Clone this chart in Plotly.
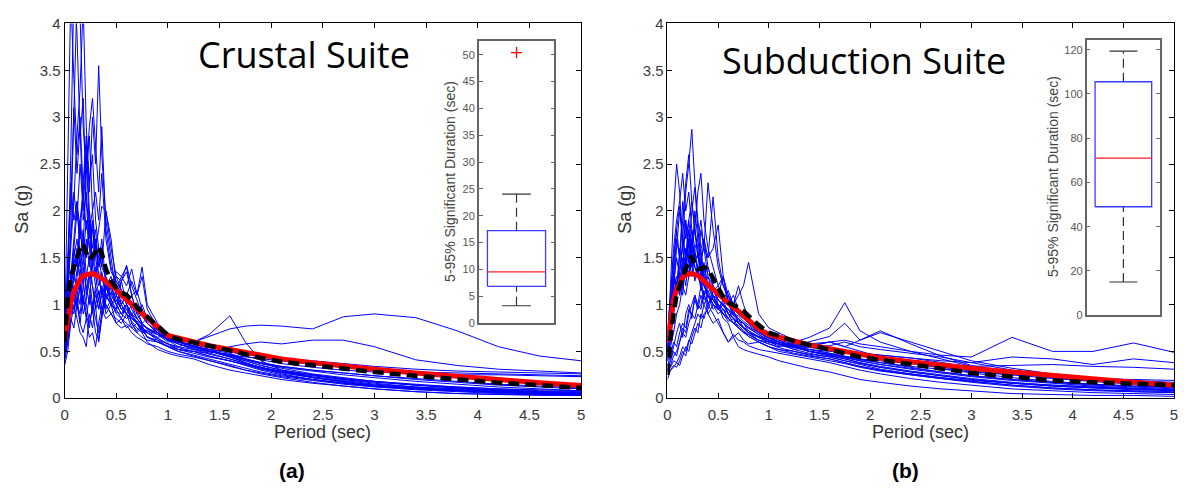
import plotly.graph_objects as go

# ---------------- data ----------------
periods = [0, 0.03, 0.06, 0.09, 0.12, 0.15, 0.18, 0.21, 0.24, 0.27,
           0.3, 0.33, 0.36, 0.4, 0.45, 0.5, 0.55, 0.6, 0.65, 0.7,
           0.75, 0.8, 0.9, 1.0, 1.1, 1.25, 1.4, 1.6, 1.75, 1.9,
           2.1, 2.4, 2.7, 3.0, 3.4, 3.8, 4.2, 4.6, 5.0]

crustal_target = [0.62, 0.85, 1.02, 1.14, 1.22, 1.27, 1.31, 1.32, 1.33, 1.33,
                  1.32, 1.3, 1.28, 1.25, 1.2, 1.16, 1.1, 1.05, 1.0, 0.95,
                  0.9, 0.86, 0.76, 0.67, 0.64, 0.6, 0.56, 0.52, 0.49, 0.46,
                  0.42, 0.38, 0.34, 0.31, 0.27, 0.23, 0.2, 0.165, 0.135]
crustal_mean = [0.6, 1.05, 1.3, 1.42, 1.5, 1.6, 1.65, 1.55, 1.48, 1.52,
                1.56, 1.62, 1.55, 1.38, 1.25, 1.18, 1.13, 1.1, 1.05, 0.97,
                0.92, 0.88, 0.78, 0.67, 0.63, 0.6, 0.56, 0.51, 0.47, 0.43,
                0.39, 0.35, 0.31, 0.28, 0.24, 0.2, 0.165, 0.14, 0.11]

crustal_records = [
    [0.55, 1.2, 2.6, 4.4, 3.9, 2.8, 3.2, 2.1, 1.6, 1.9,
     1.3, 1.1, 1.2, 0.95, 1.05, 0.9, 0.85, 1.0, 0.8, 0.72,
     0.78, 0.65, 0.6, 0.55, 0.5, 0.46, 0.42, 0.36, 0.32, 0.28,
     0.24, 0.2, 0.16, 0.13, 0.1, 0.08, 0.06, 0.05, 0.04],
    [0.7, 1.0, 1.8, 3.0, 4.3, 4.1, 2.9, 2.4, 2.8, 2.0,
     1.6, 1.4, 1.7, 1.2, 1.0, 1.1, 0.95, 0.9, 1.0, 0.85,
     0.8, 0.74, 0.7, 0.62, 0.6, 0.55, 0.5, 0.44, 0.4, 0.35,
     0.3, 0.25, 0.21, 0.18, 0.14, 0.11, 0.09, 0.07, 0.06],
    [0.6, 0.9, 1.3, 1.6, 2.0, 1.7, 2.3, 2.8, 2.2, 3.0,
     2.5, 3.55, 2.6, 1.9, 1.5, 1.1, 1.25, 1.0, 0.9, 0.95,
     0.8, 0.75, 0.68, 0.6, 0.62, 0.55, 0.5, 0.46, 0.41, 0.37,
     0.33, 0.29, 0.25, 0.22, 0.18, 0.15, 0.12, 0.1, 0.08],
    [0.5, 0.8, 1.1, 1.5, 1.3, 1.9, 1.6, 2.4, 2.9, 3.2,
     2.7, 2.2, 2.9, 1.8, 1.4, 1.2, 1.0, 1.1, 0.95, 0.85,
     0.9, 0.8, 0.7, 0.65, 0.58, 0.52, 0.5, 0.47, 0.42, 0.38,
     0.34, 0.3, 0.27, 0.24, 0.21, 0.18, 0.15, 0.13, 0.11],
    [0.45, 0.7, 1.0, 0.95, 1.3, 1.5, 1.2, 1.7, 1.4, 1.9,
     1.6, 1.8, 2.05, 2.0, 1.6, 1.3, 1.15, 1.0, 1.1, 0.9,
     0.8, 0.85, 0.72, 0.66, 0.6, 0.56, 0.55, 0.5, 0.45, 0.41,
     0.37, 0.33, 0.3, 0.28, 0.26, 0.25, 0.25, 0.24, 0.23],
    [0.35, 0.5, 0.8, 1.0, 0.85, 0.7, 0.65, 0.55, 0.9, 0.75,
     1.0, 0.6, 0.85, 1.05, 1.2, 1.35, 1.3, 1.4, 1.1, 1.15,
     0.95, 0.8, 0.7, 0.62, 0.66, 0.6, 0.52, 0.45, 0.38, 0.32,
     0.26, 0.2, 0.16, 0.13, 0.1, 0.08, 0.06, 0.05, 0.04],
    [0.6, 0.9, 1.2, 1.4, 1.1, 1.25, 1.0, 1.3, 1.15, 0.95,
     1.2, 1.05, 0.9, 1.1, 1.0, 0.95, 1.25, 1.35, 1.1, 0.9,
     1.0, 0.85, 0.7, 0.62, 0.55, 0.6, 0.68, 0.88, 0.6, 0.4,
     0.3, 0.22, 0.17, 0.13, 0.1, 0.08, 0.06, 0.05, 0.04],
    [0.5, 0.7, 0.9, 1.1, 1.0, 1.2, 0.9, 1.05, 1.3, 1.0,
     1.1, 0.95, 1.15, 1.0, 0.9, 0.85, 0.8, 0.9, 0.75, 0.8,
     0.7, 0.72, 0.65, 0.68, 0.62, 0.6, 0.66, 0.74, 0.77, 0.78,
     0.77, 0.74, 0.87, 0.9, 0.86, 0.72, 0.55, 0.45, 0.4],
    [0.55, 0.8, 1.0, 1.3, 1.6, 1.2, 1.5, 1.1, 1.35, 1.2,
     0.95, 1.05, 1.2, 0.9, 1.0, 0.8, 0.85, 0.75, 0.8, 0.7,
     0.75, 0.65, 0.62, 0.58, 0.52, 0.5, 0.48, 0.55, 0.58, 0.6,
     0.58, 0.62, 0.62, 0.55, 0.41, 0.35, 0.31, 0.29, 0.27],
    [0.4, 0.6, 0.9, 1.2, 1.0, 0.8, 1.1, 0.9, 0.75, 1.0,
     0.85, 0.7, 0.9, 1.2, 1.3, 1.1, 1.0, 0.9, 0.82, 0.75,
     0.7, 0.6, 0.52, 0.48, 0.45, 0.42, 0.36, 0.3, 0.27, 0.24,
     0.2, 0.16, 0.13, 0.1, 0.07, 0.05, 0.04, 0.03, 0.03],
    [0.8, 1.3, 1.8, 2.2, 1.9, 2.5, 2.0, 2.6, 1.8, 1.5,
     1.7, 1.3, 1.1, 1.2, 1.05, 0.95, 1.0, 0.9, 0.85, 0.8,
     0.72, 0.7, 0.62, 0.55, 0.52, 0.5, 0.45, 0.4, 0.36, 0.32,
     0.28, 0.24, 0.2, 0.17, 0.14, 0.12, 0.1, 0.09, 0.08],
    [0.5, 0.75, 1.0, 1.3, 1.15, 1.0, 1.4, 1.2, 1.0, 1.5,
     1.3, 1.6, 1.4, 2.0, 1.7, 1.2, 1.0, 1.1, 1.25, 1.1,
     1.4, 1.0, 0.8, 0.7, 0.62, 0.55, 0.5, 0.46, 0.44, 0.42,
     0.4, 0.36, 0.33, 0.3, 0.28, 0.27, 0.26, 0.25, 0.24],
    [0.6, 2.5, 4.3, 3.4, 2.6, 3.0, 2.2, 1.8, 2.0, 1.4,
     1.2, 1.35, 1.1, 1.0, 0.9, 0.95, 0.85, 0.8, 0.75, 0.7,
     0.65, 0.62, 0.6, 0.56, 0.52, 0.48, 0.44, 0.4, 0.35, 0.3,
     0.25, 0.2, 0.16, 0.13, 0.1, 0.08, 0.07, 0.06, 0.05],
    [0.7, 1.0, 1.3, 1.5, 1.7, 1.4, 1.6, 1.5, 1.9, 1.4,
     1.65, 1.5, 1.3, 1.15, 1.2, 1.05, 0.95, 1.0, 0.9, 0.85,
     0.78, 0.75, 0.7, 0.64, 0.6, 0.56, 0.5, 0.46, 0.42, 0.38,
     0.34, 0.3, 0.27, 0.24, 0.2, 0.17, 0.14, 0.12, 0.1],
    [0.65, 1.1, 1.6, 2.1, 2.8, 3.3, 4.2, 2.9, 2.3, 2.6,
     1.9, 1.6, 1.4, 1.3, 1.15, 1.0, 1.05, 0.95, 0.88, 0.82,
     0.76, 0.7, 0.64, 0.58, 0.55, 0.52, 0.47, 0.42, 0.37, 0.33,
     0.29, 0.25, 0.21, 0.18, 0.15, 0.12, 0.1, 0.08, 0.07],
    [0.45, 0.65, 0.9, 1.1, 0.95, 1.2, 1.05, 0.85, 1.1, 0.9,
     1.15, 0.95, 1.1, 1.25, 1.05, 1.15, 1.3, 1.2, 1.38, 1.1,
     1.3, 0.95, 0.75, 0.66, 0.6, 0.55, 0.5, 0.44, 0.38, 0.33,
     0.28, 0.22, 0.18, 0.14, 0.11, 0.09, 0.07, 0.06, 0.05],
    [0.7, 1.6, 2.3, 1.9, 2.1, 1.5, 1.8, 1.3, 1.5, 1.2,
     1.0, 1.15, 0.95, 0.85, 0.9, 0.8, 0.75, 0.78, 0.7, 0.65,
     0.62, 0.58, 0.55, 0.5, 0.47, 0.44, 0.4, 0.35, 0.3, 0.26,
     0.22, 0.17, 0.13, 0.1, 0.07, 0.05, 0.04, 0.04, 0.03],
    [0.55, 0.85, 1.2, 1.6, 1.4, 1.9, 2.2, 2.7, 2.0, 1.6,
     1.8, 1.4, 1.5, 1.25, 1.1, 1.0, 0.9, 1.0, 0.88, 0.8,
     0.75, 0.72, 0.68, 0.62, 0.58, 0.54, 0.5, 0.45, 0.4, 0.35,
     0.3, 0.25, 0.2, 0.16, 0.12, 0.1, 0.08, 0.07, 0.06],
    [0.4, 0.6, 0.85, 0.75, 1.0, 0.9, 1.2, 1.0, 0.8, 0.95,
     0.7, 0.62, 0.9, 1.1, 1.0, 1.05, 0.95, 0.9, 0.85, 0.8,
     0.72, 0.66, 0.6, 0.55, 0.5, 0.45, 0.4, 0.34, 0.3, 0.27,
     0.23, 0.19, 0.15, 0.12, 0.09, 0.07, 0.05, 0.04, 0.04],
    [0.6, 0.9, 1.3, 1.7, 2.1, 1.8, 1.5, 1.9, 1.6, 1.3,
     1.4, 1.2, 1.3, 1.1, 1.2, 1.0, 0.9, 0.95, 0.85, 0.82,
     0.8, 0.74, 0.68, 0.64, 0.6, 0.55, 0.52, 0.5, 0.47, 0.44,
     0.42, 0.4, 0.37, 0.34, 0.31, 0.29, 0.28, 0.27, 0.26],
    [0.65, 1.4, 2.1, 3.1, 2.4, 2.9, 1.9, 2.2, 1.7, 1.8,
     1.5, 1.3, 1.35, 1.1, 1.0, 0.92, 0.9, 0.85, 0.9, 0.8,
     0.74, 0.7, 0.64, 0.58, 0.54, 0.5, 0.45, 0.4, 0.36, 0.31,
     0.27, 0.22, 0.18, 0.14, 0.11, 0.09, 0.07, 0.06, 0.05],
    [0.5, 0.75, 1.0, 0.9, 1.1, 0.8, 0.7, 0.85, 0.65, 0.7,
     0.55, 0.8, 1.0, 1.2, 1.1, 1.3, 1.25, 1.42, 1.2, 1.05,
     0.9, 0.85, 0.72, 0.64, 0.6, 0.56, 0.52, 0.48, 0.42, 0.37,
     0.32, 0.26, 0.22, 0.18, 0.14, 0.11, 0.09, 0.07, 0.06],
    [0.6, 0.9, 1.1, 1.3, 1.5, 1.3, 1.7, 1.5, 1.8, 2.0,
     2.2, 1.9, 2.4, 1.7, 1.35, 1.25, 1.15, 1.1, 1.0, 0.95,
     0.88, 0.8, 0.7, 0.63, 0.58, 0.53, 0.48, 0.42, 0.37, 0.33,
     0.28, 0.23, 0.19, 0.15, 0.12, 0.1, 0.08, 0.06, 0.05],
]

subduction_target = [0.6, 0.88, 1.05, 1.16, 1.24, 1.29, 1.32, 1.33, 1.33, 1.32,
                     1.31, 1.28, 1.25, 1.22, 1.17, 1.12, 1.07, 1.02, 0.97, 0.93,
                     0.88, 0.83, 0.74, 0.68, 0.65, 0.61, 0.57, 0.53, 0.5, 0.47,
                     0.43, 0.39, 0.35, 0.32, 0.28, 0.24, 0.21, 0.17, 0.14]
subduction_mean = [0.25, 0.65, 0.9, 1.1, 1.2, 1.3, 1.38, 1.45, 1.52, 1.42,
                   1.38, 1.38, 1.4, 1.38, 1.28, 1.18, 1.08, 1.02, 1.0, 0.97,
                   0.93, 0.88, 0.78, 0.7, 0.66, 0.61, 0.57, 0.52, 0.48, 0.44,
                   0.41, 0.36, 0.31, 0.27, 0.23, 0.19, 0.17, 0.155, 0.14]

subduction_records = [
    [0.5, 0.8, 1.2, 1.6, 2.0, 1.7, 2.2, 2.5, 2.87, 2.3,
     1.9, 1.6, 1.7, 1.4, 1.2, 1.05, 1.0, 1.1, 0.9, 0.85,
     0.8, 0.75, 0.68, 0.62, 0.58, 0.52, 0.48, 0.44, 0.4, 0.36,
     0.31, 0.26, 0.22, 0.18, 0.14, 0.11, 0.09, 0.08, 0.07],
    [0.6, 1.2, 2.0, 2.5, 2.2, 1.6, 1.9, 1.5, 1.8, 1.4,
     1.3, 1.5, 1.2, 1.1, 1.0, 0.95, 0.9, 0.82, 0.85, 0.75,
     0.7, 0.66, 0.6, 0.55, 0.5, 0.47, 0.44, 0.4, 0.37, 0.33,
     0.29, 0.25, 0.21, 0.18, 0.14, 0.11, 0.09, 0.07, 0.06],
    [0.45, 0.7, 1.0, 1.2, 1.4, 1.6, 1.3, 1.8, 1.5, 2.0,
     1.7, 1.9, 1.6, 2.3, 1.8, 1.4, 1.2, 1.05, 1.0, 0.95,
     0.9, 0.85, 0.75, 0.68, 0.62, 0.55, 0.52, 0.48, 0.45, 0.42,
     0.38, 0.33, 0.28, 0.24, 0.2, 0.17, 0.15, 0.13, 0.12],
    [0.4, 0.6, 0.9, 1.1, 1.3, 1.1, 1.5, 1.3, 1.7, 1.5,
     1.4, 1.8, 1.6, 1.5, 2.15, 1.5, 1.2, 1.1, 1.0, 0.9,
     0.85, 0.8, 0.7, 0.66, 0.6, 0.55, 0.5, 0.45, 0.42, 0.38,
     0.33, 0.28, 0.24, 0.2, 0.16, 0.13, 0.11, 0.09, 0.08],
    [0.25, 0.3, 0.35, 0.33, 0.4, 0.5, 0.45, 0.6, 0.7, 0.8,
     0.9, 0.85, 1.0, 1.1, 1.05, 0.95, 1.0, 0.9, 1.0, 1.1,
     1.2, 1.45, 0.9, 0.75, 0.7, 0.62, 0.58, 0.6, 0.55, 0.5,
     0.44, 0.38, 0.32, 0.27, 0.22, 0.18, 0.15, 0.13, 0.11],
    [0.35, 0.4, 0.5, 0.45, 0.6, 0.7, 0.65, 0.8, 0.9, 0.85,
     1.0, 0.95, 1.1, 1.2, 1.05, 1.0, 0.95, 0.85, 0.8, 0.75,
     0.7, 0.68, 0.62, 0.58, 0.55, 0.6, 0.65, 0.75, 1.02, 0.72,
     0.6, 0.5, 0.42, 0.34, 0.27, 0.22, 0.18, 0.15, 0.12],
    [0.5, 0.8, 1.1, 1.3, 1.2, 1.5, 1.3, 1.7, 1.4, 1.6,
     1.3, 1.2, 1.4, 1.1, 1.0, 0.9, 0.95, 0.85, 0.8, 0.78,
     0.72, 0.68, 0.62, 0.6, 0.58, 0.56, 0.6, 0.66, 0.8, 0.62,
     0.72, 0.58, 0.45, 0.35, 0.28, 0.23, 0.19, 0.16, 0.14],
    [0.3, 0.35, 0.45, 0.5, 0.6, 0.75, 0.7, 0.9, 1.0, 1.1,
     1.0, 1.2, 1.05, 1.1, 0.95, 1.0, 0.9, 0.85, 0.95, 0.8,
     0.75, 0.7, 0.65, 0.6, 0.58, 0.55, 0.56, 0.6, 0.62, 0.58,
     0.55, 0.5, 0.46, 0.44, 0.65, 0.5, 0.5, 0.59, 0.49],
    [0.4, 0.55, 0.7, 0.9, 1.0, 1.2, 1.1, 1.3, 1.5, 1.25,
     1.4, 1.15, 1.3, 1.0, 1.1, 0.95, 1.05, 0.9, 0.8, 0.85,
     0.75, 0.7, 0.66, 0.62, 0.6, 0.56, 0.52, 0.5, 0.5, 0.48,
     0.46, 0.43, 0.4, 0.38, 0.44, 0.42, 0.36, 0.42, 0.38],
    [0.55, 0.9, 1.4, 1.8, 1.5, 2.1, 1.7, 1.9, 1.6, 1.8,
     1.5, 1.4, 1.2, 1.3, 1.1, 1.0, 0.9, 0.95, 0.85, 0.8,
     0.75, 0.7, 0.65, 0.6, 0.58, 0.55, 0.5, 0.47, 0.44, 0.42,
     0.4, 0.37, 0.35, 0.34, 0.35, 0.36, 0.34, 0.33, 0.31],
    [0.3, 0.4, 0.55, 0.7, 0.8, 0.65, 0.9, 1.0, 0.85, 1.1,
     0.95, 1.0, 1.15, 0.9, 0.8, 0.85, 0.7, 0.6, 0.65, 0.55,
     0.52, 0.5, 0.47, 0.44, 0.4, 0.36, 0.32, 0.28, 0.24, 0.2,
     0.17, 0.13, 0.1, 0.08, 0.05, 0.04, 0.03, 0.03, 0.02],
    [0.7, 1.1, 1.6, 1.9, 2.1, 2.4, 2.0, 2.2, 1.8, 1.6,
     1.7, 1.4, 1.3, 1.2, 1.15, 1.05, 1.0, 0.95, 0.9, 0.85,
     0.8, 0.72, 0.65, 0.6, 0.56, 0.54, 0.52, 0.48, 0.44, 0.4,
     0.36, 0.32, 0.28, 0.24, 0.2, 0.17, 0.14, 0.12, 0.1],
    [0.2, 0.3, 0.33, 0.38, 0.35, 0.45, 0.55, 0.5, 0.65, 0.75,
     0.7, 0.9, 0.85, 1.0, 1.15, 1.2, 1.3, 1.1, 0.95, 0.9,
     0.85, 0.8, 0.72, 0.66, 0.62, 0.58, 0.55, 0.52, 0.5, 0.46,
     0.42, 0.37, 0.33, 0.29, 0.25, 0.21, 0.18, 0.16, 0.14],
    [0.5, 0.75, 1.0, 1.25, 1.1, 1.35, 1.5, 1.3, 1.6, 1.45,
     1.55, 1.4, 1.7, 1.5, 1.6, 1.85, 1.3, 1.0, 1.1, 0.95,
     0.88, 0.82, 0.72, 0.65, 0.6, 0.55, 0.5, 0.46, 0.43, 0.4,
     0.36, 0.31, 0.27, 0.23, 0.19, 0.16, 0.13, 0.11, 0.09],
    [0.45, 0.9, 1.3, 1.1, 1.6, 1.4, 1.9, 1.6, 2.0, 2.25,
     1.8, 1.5, 1.6, 1.3, 1.2, 1.0, 0.85, 0.8, 0.65, 0.7,
     0.62, 0.58, 0.6, 0.55, 0.52, 0.5, 0.46, 0.42, 0.38, 0.34,
     0.3, 0.26, 0.22, 0.19, 0.16, 0.14, 0.12, 0.1, 0.09],
    [0.5, 0.85, 1.3, 1.7, 1.5, 1.9, 2.3, 2.6, 2.1, 1.8,
     1.6, 1.3, 1.45, 1.2, 1.1, 0.95, 1.0, 0.9, 0.85, 0.8,
     0.75, 0.7, 0.62, 0.58, 0.54, 0.5, 0.47, 0.44, 0.4, 0.37,
     0.33, 0.28, 0.24, 0.2, 0.16, 0.13, 0.11, 0.1, 0.09],
    [0.6, 1.0, 1.35, 1.2, 1.5, 1.3, 1.6, 1.45, 1.7, 1.8,
     1.5, 1.6, 1.3, 1.4, 1.2, 1.1, 1.3, 1.0, 0.9, 0.88,
     0.82, 0.78, 0.7, 0.64, 0.6, 0.57, 0.54, 0.52, 0.5, 0.48,
     0.46, 0.43, 0.38, 0.33, 0.27, 0.22, 0.19, 0.17, 0.15],
    [0.3, 0.33, 0.4, 0.38, 0.45, 0.55, 0.5, 0.62, 0.58, 0.7,
     0.8, 0.75, 0.9, 0.95, 1.1, 1.05, 0.98, 0.95, 0.88, 0.82,
     0.8, 0.76, 0.7, 0.64, 0.6, 0.57, 0.55, 0.56, 0.6, 0.55,
     0.52, 0.48, 0.44, 0.38, 0.3, 0.24, 0.2, 0.17, 0.15],
    [0.55, 0.9, 1.2, 1.5, 1.3, 1.7, 1.5, 1.9, 2.1, 1.8,
     2.2, 2.4, 1.9, 1.6, 1.4, 1.2, 1.1, 1.0, 0.92, 0.85,
     0.8, 0.75, 0.68, 0.62, 0.58, 0.55, 0.5, 0.46, 0.42, 0.38,
     0.34, 0.29, 0.25, 0.21, 0.17, 0.14, 0.12, 0.1, 0.09],
    [0.35, 0.45, 0.6, 0.55, 0.7, 0.8, 0.75, 0.95, 0.9, 1.05,
     0.95, 1.1, 1.0, 0.9, 1.0, 0.95, 1.05, 1.15, 1.0, 1.2,
     1.0, 0.85, 0.72, 0.62, 0.58, 0.52, 0.55, 0.6, 0.55, 0.62,
     0.7, 0.6, 0.5, 0.4, 0.32, 0.26, 0.22, 0.19, 0.17],
    [0.65, 1.1, 1.5, 1.8, 2.05, 1.7, 1.5, 1.7, 1.4, 1.3,
     1.4, 1.2, 1.1, 1.15, 1.0, 0.95, 0.9, 0.85, 0.8, 0.75,
     0.7, 0.66, 0.6, 0.55, 0.52, 0.48, 0.45, 0.42, 0.38, 0.34,
     0.3, 0.25, 0.21, 0.17, 0.13, 0.1, 0.08, 0.07, 0.06],
    [0.4, 0.7, 1.0, 1.25, 1.1, 1.4, 1.2, 1.5, 1.3, 1.55,
     1.35, 1.25, 1.1, 1.0, 0.9, 0.8, 0.7, 0.6, 0.68, 0.62,
     0.6, 0.56, 0.52, 0.5, 0.48, 0.45, 0.42, 0.38, 0.34, 0.3,
     0.26, 0.21, 0.17, 0.14, 0.1, 0.08, 0.06, 0.05, 0.04],
    [0.5, 0.8, 1.0, 1.2, 1.35, 1.2, 1.45, 1.3, 1.55, 1.4,
     1.3, 1.35, 1.2, 1.1, 1.05, 1.0, 0.95, 0.9, 0.85, 0.8,
     0.76, 0.72, 0.66, 0.62, 0.58, 0.54, 0.5, 0.47, 0.44, 0.41,
     0.38, 0.34, 0.31, 0.28, 0.25, 0.23, 0.21, 0.2, 0.19],
]

# 5-95% significant duration box-plot statistics (sec)
crustal_duration = {"lower": 3.2, "q1": 6.8, "median": 9.5, "q3": 17.2, "upper": 24.0, "outliers": [50.4]}
subduction_duration = {"lower": 15.0, "q1": 49.0, "median": 71.0, "q3": 105.5, "upper": 119.3, "outliers": []}

titles = ["Crustal Suite", "Subduction Suite"]
panel_labels = ["(a)", "(b)"]

# ---------------- figure ----------------
W, H = 1184, 498
fig = go.Figure()


def px_x(p):
    return p / W


def px_y(p):
    return 1 - p / H


main_dom = [(px_x(61), px_x(581)), (px_x(668), px_x(1178))]
main_ydom = (px_y(403), px_y(15))
inset_dom = [(px_x(478), px_x(554)), (px_x(1090), px_x(1164))]
inset_ydom = [(px_y(325), px_y(33)), (px_y(317), px_y(32))]

suites = [
    (crustal_records, crustal_target, crustal_mean, crustal_duration, 52.6, 5),
    (subduction_records, subduction_target, subduction_mean, subduction_duration, 124.4, 20),
]

tick_font = dict(family="Liberation Sans, Arial, sans-serif", size=15, color="#3a3a3a")
inset_font = dict(family="Liberation Sans, Arial, sans-serif", size=11, color="#555555")

for i, (records, target, mean, dur, ymax, dtick) in enumerate(suites):
    xa = "x" if i == 0 else "x2"
    ya = "y" if i == 0 else "y2"
    for rec in records:
        fig.add_trace(go.Scatter(x=periods, y=rec, mode="lines", xaxis=xa, yaxis=ya,
                                 line=dict(color="#0000ff", width=1), showlegend=False,
                                 hoverinfo="skip"))
    fig.add_trace(go.Scatter(x=periods, y=target, mode="lines", xaxis=xa, yaxis=ya,
                             line=dict(color="#ff0000", width=5), showlegend=False))
    fig.add_trace(go.Scatter(x=periods, y=mean, mode="lines", xaxis=xa, yaxis=ya,
                             line=dict(color="#000000", width=4.5, dash="11px,6px"),
                             showlegend=False))

    # inset box plot
    ixa = "x3" if i == 0 else "x4"
    iya = "y3" if i == 0 else "y4"
    hw, cw = 0.385, 0.19
    q1, med, q3, lo, hi = dur["q1"], dur["median"], dur["q3"], dur["lower"], dur["upper"]
    fig.add_trace(go.Scatter(x=[1 - hw, 1 + hw, 1 + hw, 1 - hw, 1 - hw], y=[q1, q1, q3, q3, q1],
                             mode="lines", xaxis=ixa, yaxis=iya,
                             line=dict(color="#3b3bff", width=1.3), showlegend=False))
    fig.add_trace(go.Scatter(x=[1 - hw, 1 + hw], y=[med, med], mode="lines", xaxis=ixa, yaxis=iya,
                             line=dict(color="#ff2020", width=1.3), showlegend=False))
    for a, b in [(q3, hi), (lo, q1)]:
        fig.add_trace(go.Scatter(x=[1, 1], y=[a, b], mode="lines", xaxis=ixa, yaxis=iya,
                                 line=dict(color="#333333", width=1.2, dash="9px,5px"),
                                 showlegend=False))
    for v in (lo, hi):
        fig.add_trace(go.Scatter(x=[1 - cw, 1 + cw], y=[v, v], mode="lines", xaxis=ixa, yaxis=iya,
                                 line=dict(color="#333333", width=1.2), showlegend=False))
    if dur["outliers"]:
        fig.add_trace(go.Scatter(x=[1] * len(dur["outliers"]), y=dur["outliers"], mode="markers",
                                 xaxis=ixa, yaxis=iya,
                                 marker=dict(symbol="cross-thin", size=8, color="#ff0000",
                                             line=dict(color="#ff0000", width=1.3)),
                                 showlegend=False))

    sfx = "" if i == 0 else "2"
    fig.layout["xaxis" + sfx] = dict(domain=main_dom[i], range=[0, 5], dtick=0.5, anchor=ya,
                                     showgrid=False, zeroline=False, showline=True, linecolor="black",
                                     linewidth=1, mirror="ticks", ticks="inside", ticklen=5,
                                     tickcolor="black", tickfont=tick_font, ticklabelstandoff=3)
    fig.layout["yaxis" + sfx] = dict(domain=main_ydom, range=[0, 4], dtick=0.5, anchor=xa,
                                     showgrid=False, zeroline=False, showline=True, linecolor="black",
                                     linewidth=1, mirror="ticks", ticks="inside", ticklen=5,
                                     tickcolor="black", tickfont=tick_font)
    isfx = "3" if i == 0 else "4"
    fig.layout["xaxis" + isfx] = dict(domain=inset_dom[i], range=[0.5, 1.5], anchor=iya,
                                      showgrid=False, zeroline=False, showline=True,
                                      linecolor="#666666", linewidth=1.5, mirror=True,
                                      ticks="", showticklabels=False)
    fig.layout["yaxis" + isfx] = dict(domain=inset_ydom[i], range=[0, ymax], dtick=dtick, anchor=ixa,
                                      showgrid=False, zeroline=False, showline=True,
                                      linecolor="#666666", linewidth=1.5, mirror="ticks",
                                      ticks="inside", ticklen=4, tickcolor="#666666",
                                      tickfont=inset_font)

annotations = []
title_pos = [(302, 47), (866, 53)]
xlabel_x = [321, 923]
ylabel_x = [18, 625]
inset_label = [(449, 178), (1056, 173)]
label_x = [290, 908]
for i in range(2):
    common = dict(xref="paper", yref="paper", showarrow=False, xanchor="center", yanchor="middle")
    annotations.append(dict(text=titles[i], x=px_x(title_pos[i][0]), y=px_y(title_pos[i][1]),
                            font=dict(family="Open Sans", size=36, color="black"), **common))
    annotations.append(dict(text="Period (sec)", x=px_x(xlabel_x[i]), y=px_y(438),
                            font=dict(family="Liberation Sans, Arial", size=18, color="#333333"),
                            **common))
    annotations.append(dict(text="Sa (g)", x=px_x(ylabel_x[i]), y=px_y(207), textangle=-90,
                            font=dict(family="Liberation Sans, Arial", size=18, color="#333333"),
                            **common))
    annotations.append(dict(text="5-95% Significant Duration (sec)", x=px_x(inset_label[i][0]),
                            y=px_y(inset_label[i][1]), textangle=-90,
                            font=dict(family="Liberation Sans, Arial", size=14, color="#444444"),
                            **common))
    annotations.append(dict(text="<b>" + panel_labels[i] + "</b>", x=px_x(label_x[i]), y=px_y(478),
                            font=dict(family="Liberation Sans, Arial", size=21, color="black"),
                            **common))

fig.update_layout(width=W, height=H, margin=dict(l=0, r=0, t=0, b=0),
                  paper_bgcolor="white", plot_bgcolor="white",
                  annotations=annotations, showlegend=False)

fig.write_html("out.html")
